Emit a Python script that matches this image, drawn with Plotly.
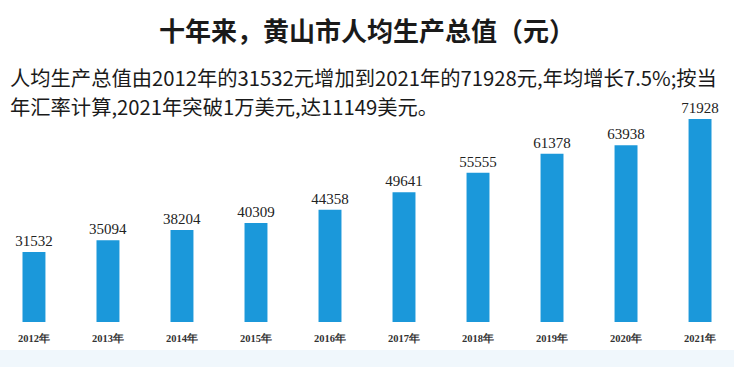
import plotly.graph_objects as go

years = ["2012年", "2013年", "2014年", "2015年", "2016年", "2017年", "2018年", "2019年", "2020年", "2021年"]
values = [31532, 35094, 38204, 40309, 44358, 49641, 55555, 61378, 63938, 71928]

title = "十年来，黄山市人均生产总值（元）"
sub1 = "人均生产总值由2012年的31532元增加到2021年的71928元,年均增长7.5%;按当"
sub2 = "年汇率计算,2021年突破1万美元,达11149美元。"

W, H = 734, 367
fig = go.Figure(go.Bar(
    x=list(range(len(years))), y=values,
    width=0.31,
    marker=dict(color="#1b98da", line=dict(width=0)),
    text=[str(v) for v in values], textposition="outside", constraintext="none",
    textfont=dict(family="Liberation Serif", size=15, color="#222222"),
    cliponaxis=False,
))
fig.update_layout(
    width=W, height=H,
    margin=dict(l=0, r=0, t=100, b=45),
    paper_bgcolor="white", plot_bgcolor="rgba(0,0,0,0)",
    showlegend=False,
    xaxis=dict(range=[-0.459, 9.459], tickmode="array", tickvals=list(range(len(years))),
               ticktext=["<b>" + y + "</b>" for y in years],
               tickfont=dict(family="Liberation Serif", size=10.5, color="#333333"),
               showgrid=False, zeroline=False, showline=False, ticks="", ticklabelstandoff=8),
    yaxis=dict(range=[10265, 77681], visible=False, showgrid=False),
    shapes=[dict(type="rect", xref="paper", yref="paper", x0=0, x1=1, y0=-0.25, y1=-0.126,
                 fillcolor="#f0f7fc", line=dict(width=0), layer="below")],
    annotations=[
        dict(text="<b>" + title + "</b>", xref="paper", yref="paper", x=0.5, y=(322 - 30) / 222,
             xanchor="center", yanchor="middle", showarrow=False,
             font=dict(family="Noto Sans CJK SC", size=26, color="#1a1a1a")),
        dict(text=sub1, xref="paper", yref="paper", x=8 / W, y=(322 - 77) / 222,
             xanchor="left", yanchor="middle", showarrow=False,
             font=dict(family="Noto Sans CJK SC", size=20.3, color="#1a1a1a")),
        dict(text=sub2, xref="paper", yref="paper", x=8 / W, y=(322 - 106) / 222,
             xanchor="left", yanchor="middle", showarrow=False,
             font=dict(family="Noto Sans CJK SC", size=20.3, color="#1a1a1a")),
    ],
)
fig.write_html("out.html", config={"displayModeBar": False},
               post_script="document.body.style.margin='0';document.body.style.overflow='hidden';")
